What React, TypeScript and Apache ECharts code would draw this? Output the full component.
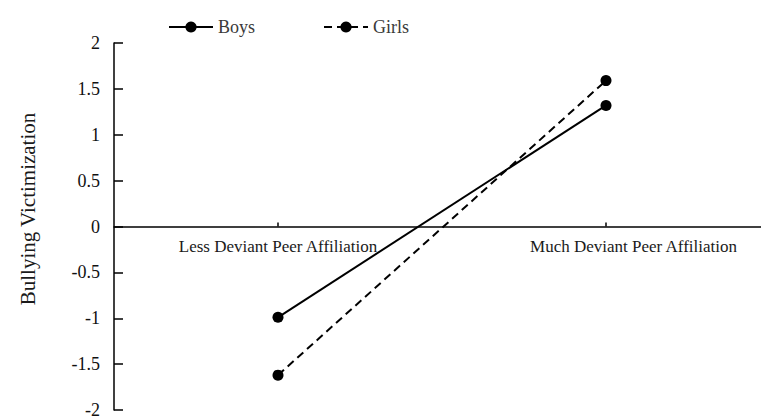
import React, { useEffect, useRef } from "react";
import * as echarts from "echarts";

const categories = ["Less Deviant Peer Affiliation", "Much Deviant Peer Affiliation"];
const boys = [-0.99, 1.32];
const girls = [-1.62, 1.59];
const yTicks = { min: -2, max: 2, interval: 0.5 };
const yName = "Bullying Victimization";

const FONT = "'Liberation Serif', 'Times New Roman', serif";

export default function App() {
  const ref = useRef<HTMLDivElement>(null);
  useEffect(() => {
    if (!ref.current) return;
    const chart = echarts.init(ref.current, null, { renderer: "svg" });
    const gridTop = 43;
    const gridHeight = 367;
    // distance from the grid bottom up to the zero line, from the y scale
    const zeroOffset = -gridHeight * (0 - yTicks.min) / (yTicks.max - yTicks.min);
    chart.setOption({
      animation: false,
      backgroundColor: "#ffffff",
      textStyle: { fontFamily: FONT },
      legend: {
        left: 163,
        top: 13,
        itemWidth: 44,
        itemHeight: 14,
        itemGap: 68,
        textStyle: { fontFamily: FONT, fontSize: 18, color: "#3a3a3a" },
        data: ["Boys", "Girls"],
      },
      grid: { left: 114, top: gridTop, width: 656, height: gridHeight, outerBoundsMode: "none", containLabel: false },
      xAxis: [
        {
          type: "category",
          data: categories,
          boundaryGap: true,
          axisLine: { onZero: true, lineStyle: { color: "#000", width: 1.5 } },
          axisTick: { show: true, inside: true, length: 4, alignWithLabel: true, lineStyle: { color: "#000", width: 1.5 } },
          axisLabel: { show: false },
          splitLine: { show: false },
        },
        {
          type: "category",
          data: [
            { value: categories[0] },
            { value: categories[1], textStyle: { padding: [0, 0, 0, 55] } },
          ],
          position: "bottom",
          offset: zeroOffset,
          boundaryGap: true,
          axisLine: { show: false, onZero: false },
          axisTick: { show: false },
          axisLabel: { fontFamily: FONT, fontSize: 17, color: "#1a1a1a", margin: 11, interval: 0 },
          splitLine: { show: false },
        },
      ],
      yAxis: {
        type: "value",
        min: yTicks.min,
        max: yTicks.max,
        interval: yTicks.interval,
        axisLine: { show: true, lineStyle: { color: "#000", width: 1.5 } },
        axisTick: { show: true, inside: true, length: 9, lineStyle: { color: "#000", width: 1.5 } },
        axisLabel: { fontFamily: FONT, fontSize: 18, color: "#111", margin: 14 },
        splitLine: { show: false },
      },
      graphic: [
        {
          type: "text",
          x: 28,
          y: 209,
          rotation: Math.PI / 2,
          style: {
            text: yName,
            fontFamily: FONT,
            fontSize: 21,
            fill: "#1a1a1a",
            textAlign: "center",
            textVerticalAlign: "middle",
          },
        },
      ],
      series: [
        {
          name: "Boys",
          type: "line",
          xAxisIndex: 0,
          data: boys,
          symbol: "circle",
          symbolSize: 11,
          itemStyle: { color: "#000" },
          lineStyle: { color: "#000", width: 2, type: "solid" },
        },
        {
          name: "Girls",
          type: "line",
          xAxisIndex: 0,
          data: girls,
          symbol: "circle",
          symbolSize: 11,
          itemStyle: { color: "#000" },
          lineStyle: { color: "#000", width: 2, type: [8, 5] },
        },
      ],
    });
    return () => chart.dispose();
  }, []);
  return <div ref={ref} style={{ width: 761, height: 416, position: "absolute", left: 0, top: 0 }} />;
}
